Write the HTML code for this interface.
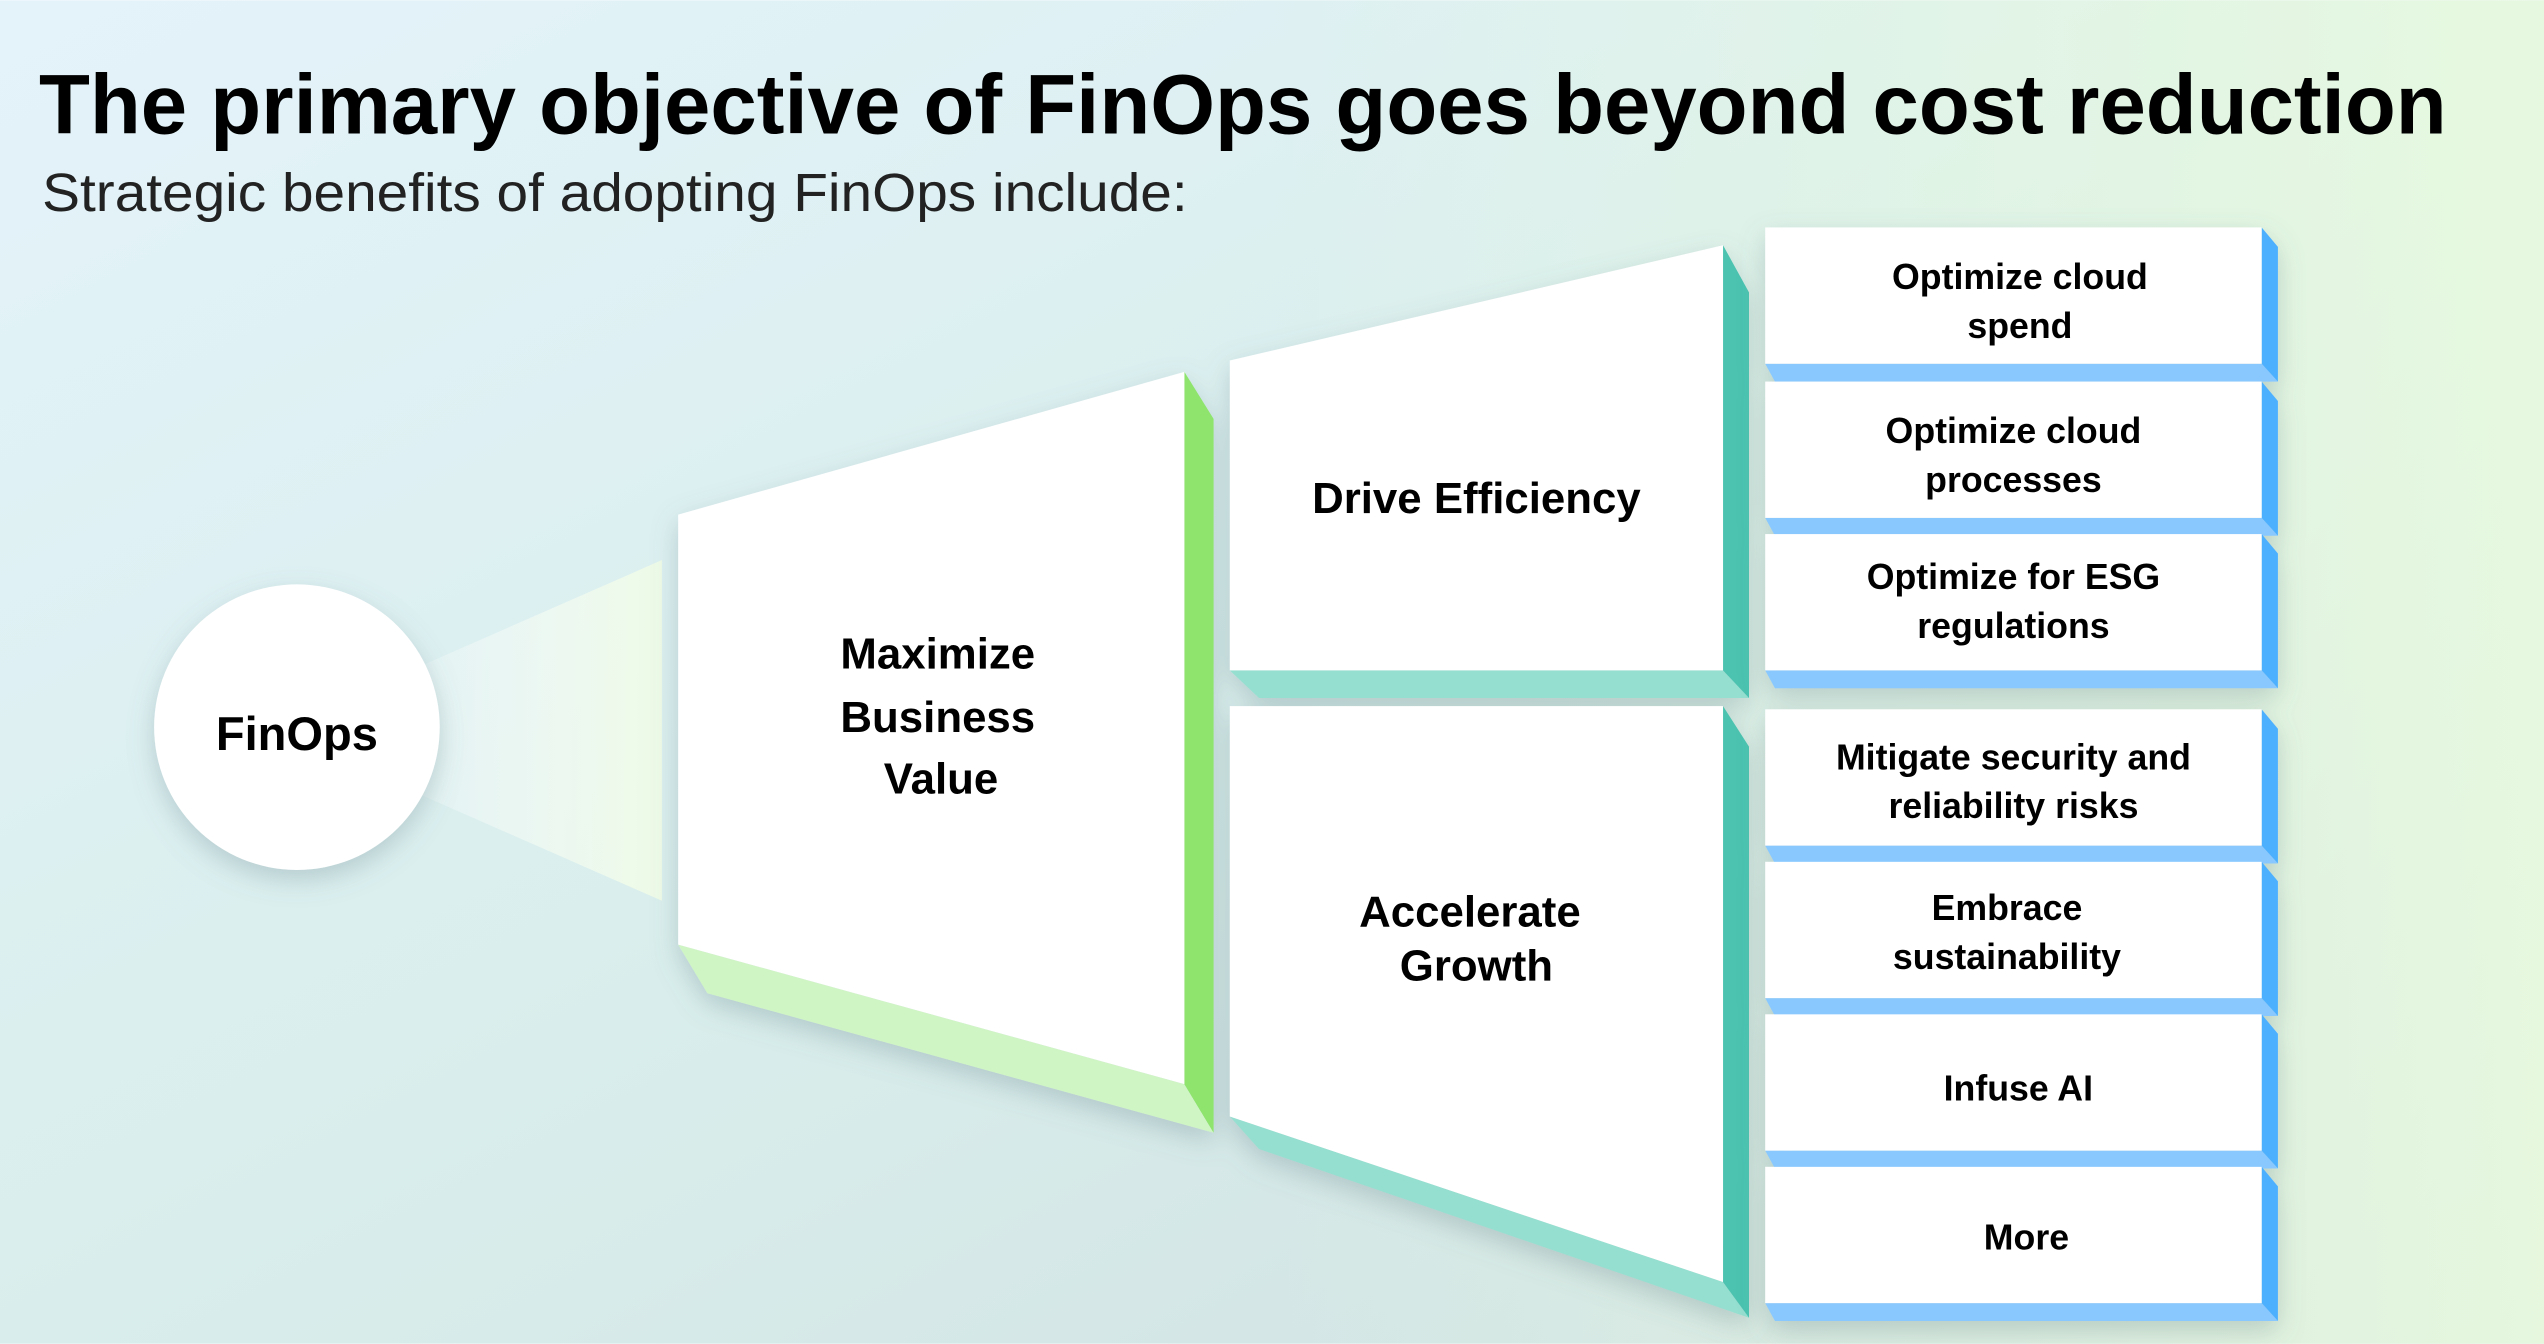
<!DOCTYPE html>
<html><head><meta charset="utf-8"><style>html,body{margin:0;padding:0;overflow:hidden}svg{display:block}</style></head><body>
<svg width="2544" height="1344" viewBox="0 0 1568 828" xmlns="http://www.w3.org/2000/svg" font-family="Liberation Sans, DejaVu Sans, sans-serif">
<defs>
<linearGradient id="bg" x1="0" y1="0" x2="1" y2="1">
<stop offset="0" stop-color="#e4f3fa"/><stop offset="0.5" stop-color="#d9eeec"/><stop offset="1" stop-color="#cfdfe0"/>
</linearGradient>
<linearGradient id="bg2" x1="0" y1="0" x2="1" y2="0">
<stop offset="0.5" stop-color="#e6f8e0" stop-opacity="0"/><stop offset="1" stop-color="#e8fade" stop-opacity="0.9"/>
</linearGradient>
<linearGradient id="cone" x1="0" y1="0" x2="1" y2="0">
<stop offset="0" stop-color="#ffffff" stop-opacity="0.2"/><stop offset="1" stop-color="#effbe6" stop-opacity="0.95"/>
</linearGradient>
<filter id="sh" x="-20%" y="-20%" width="140%" height="140%"><feDropShadow dx="0" dy="6" stdDeviation="8" flood-color="#5a7a80" flood-opacity="0.3"/></filter>
</defs>
<rect width="1568" height="828" fill="url(#bg)"/>
<rect width="1568" height="828" fill="url(#bg2)"/>
<text x="24" y="82" font-size="52" font-weight="bold" fill="#000" textLength="1484" lengthAdjust="spacingAndGlyphs">The primary objective of FinOps goes beyond cost reduction</text>
<text x="26" y="130" font-size="33" fill="#222" textLength="706" lengthAdjust="spacingAndGlyphs">Strategic benefits of adopting FinOps include:</text>

<polygon points="260,410 408,345 408,555 260,490" fill="url(#cone)"/>
<circle cx="183" cy="448" r="88" fill="#fff" filter="url(#sh)"/>
<text x="183" y="462" font-size="29" font-weight="bold" text-anchor="middle">FinOps</text>

<g filter="url(#sh)">
<polygon points="418,582 730,668 748,698 436,612" fill="#d0f5c5"/>
<polygon points="730,229 748,258 748,698 730,668" fill="#8ee46c"/>
<polygon points="418,317 730,229 730,668 418,582" fill="#fff"/>

<polygon points="758,413 1062,413 1078,430 776,430" fill="#95dfd0"/>
<polygon points="1062,151 1078,180 1078,430 1062,413" fill="#4cc3b0"/>
<polygon points="758,222 1062,151 1062,413 758,413" fill="#fff"/>

<polygon points="758,688 1062,790 1078,812 776,708" fill="#95dfd0"/>
<polygon points="1062,435 1078,460 1078,812 1062,790" fill="#4cc3b0"/>
<polygon points="758,435 1062,435 1062,790 758,688" fill="#fff"/>
</g>
<g font-size="27" font-weight="bold" text-anchor="middle" fill="#000">
<text x="578" y="412">Maximize</text><text x="578" y="451">Business</text><text x="580" y="489">Value</text>
<text x="910" y="316">Drive Efficiency</text>
<text x="906" y="571">Accelerate</text><text x="910" y="604">Growth</text>
</g>

<g filter="url(#sh)">
<g id="b1"><polygon points="1088,224 1394,224 1404,235 1094,235" fill="#88c8ff"/><polygon points="1394,140 1404,152 1404,235 1394,224" fill="#4db0ff"/><rect x="1088" y="140" width="306" height="84" fill="#fff"/></g>
<g transform="translate(0,95)"><polygon points="1088,224 1394,224 1404,235 1094,235" fill="#88c8ff"/><polygon points="1394,140 1404,152 1404,235 1394,224" fill="#4db0ff"/><rect x="1088" y="140" width="306" height="84" fill="#fff"/></g>
<g transform="translate(0,189)"><polygon points="1088,224 1394,224 1404,235 1094,235" fill="#88c8ff"/><polygon points="1394,140 1404,152 1404,235 1394,224" fill="#4db0ff"/><rect x="1088" y="140" width="306" height="84" fill="#fff"/></g>
<g transform="translate(0,297)"><polygon points="1088,224 1394,224 1404,235 1094,235" fill="#88c8ff"/><polygon points="1394,140 1404,152 1404,235 1394,224" fill="#4db0ff"/><rect x="1088" y="140" width="306" height="84" fill="#fff"/></g>
<g transform="translate(0,391)"><polygon points="1088,224 1394,224 1404,235 1094,235" fill="#88c8ff"/><polygon points="1394,140 1404,152 1404,235 1394,224" fill="#4db0ff"/><rect x="1088" y="140" width="306" height="84" fill="#fff"/></g>
<g transform="translate(0,485)"><polygon points="1088,224 1394,224 1404,235 1094,235" fill="#88c8ff"/><polygon points="1394,140 1404,152 1404,235 1394,224" fill="#4db0ff"/><rect x="1088" y="140" width="306" height="84" fill="#fff"/></g>
<g transform="translate(0,579)"><polygon points="1088,224 1394,224 1404,235 1094,235" fill="#88c8ff"/><polygon points="1394,140 1404,152 1404,235 1394,224" fill="#4db0ff"/><rect x="1088" y="140" width="306" height="84" fill="#fff"/></g>
</g>
<g font-size="22" font-weight="bold" text-anchor="middle" fill="#000">
<text x="1245" y="178">Optimize cloud</text><text x="1245" y="208">spend</text>
<text x="1241" y="273">Optimize cloud</text><text x="1241" y="303">processes</text>
<text x="1241" y="363">Optimize for ESG</text><text x="1241" y="393">regulations</text>
<text x="1241" y="474">Mitigate security and</text><text x="1241" y="504">reliability risks</text>
<text x="1237" y="567">Embrace</text><text x="1237" y="597">sustainability</text>
<text x="1244" y="678">Infuse AI</text>
<text x="1249" y="770">More</text>
</g>
</svg>
</body></html>
